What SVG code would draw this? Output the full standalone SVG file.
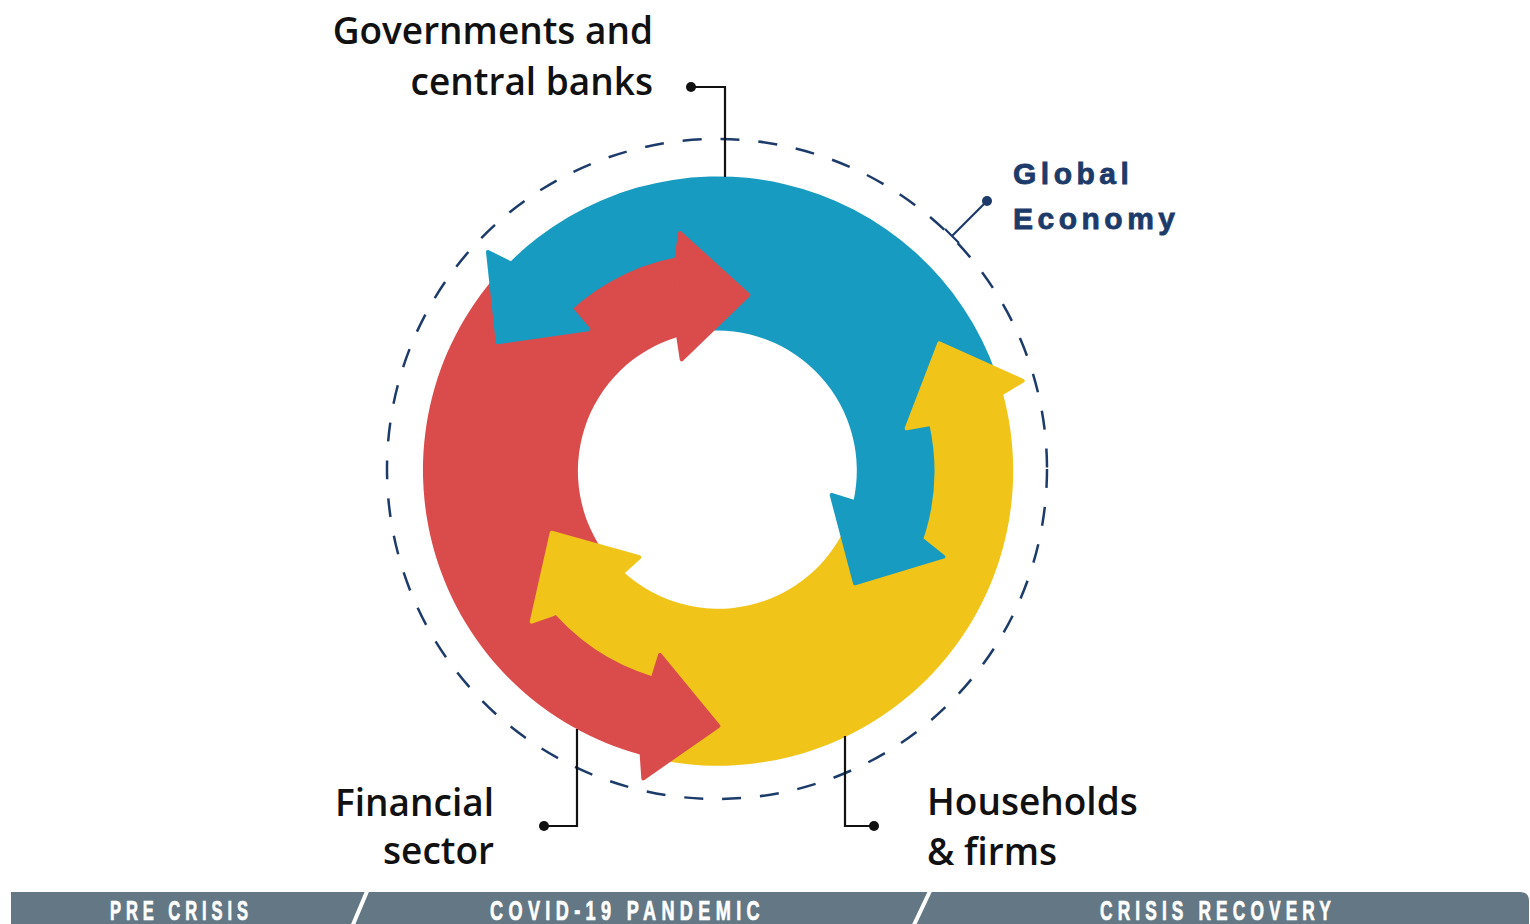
<svg xmlns="http://www.w3.org/2000/svg" width="1530" height="924" viewBox="0 0 1530 924">
<defs>
<style>
.blue{fill:#189bc0}
.red{fill:#da4b4c}
.yellow{fill:#f0c419}
.head{stroke-width:4;stroke-linejoin:round}
.blue.head{stroke:#189bc0}
.red.head{stroke:#da4b4c}
.yellow.head{stroke:#f0c419}
.lbl{font-family:"Open Sans","Noto Sans","Liberation Sans",sans-serif;font-weight:600;font-size:37px;fill:#111}
.ge{font-family:"Liberation Sans",Arial,sans-serif;font-weight:bold;font-size:30px;fill:#1c3b6a;stroke:#1c3b6a;stroke-width:0.8;letter-spacing:4.5px}
.bar-t{font-family:"Liberation Sans",Arial,sans-serif;font-weight:bold;font-size:27px;fill:#ffffff;stroke:#ffffff;stroke-width:0.7;letter-spacing:8px}
.lead{fill:none;stroke:#111;stroke-width:2.2}
.lead-n{fill:none;stroke:#1c3b6a;stroke-width:2.2}
.dot{fill:#111}
</style>
<path id="hBo" d="M509.3,262.7 L572,310 L588.3,329.3 L497.7,342.3 L488,252 Z"/>
<path id="hBi" d="M923.3,540.7 L943.3,556.7 L855,583.3 L831.7,495 L853.3,501.7 Z"/>
<path id="hYo" d="M929.3,424.3 L906.7,428.3 L939.3,343.3 L1022.7,380.7 L1002.7,392.7 Z"/>
<path id="hYi" d="M553.3,614 L531.7,621.7 L551.7,532.7 L639.3,557.3 L623.3,571.7 Z"/>
<path id="hRo" d="M653.3,676.7 L660,655 L718.3,726 L643.3,778.3 L641.7,755 Z"/>
<path id="hRi" d="M676.7,257.3 L680,233 L748.3,295 L681.7,359.3 L678.3,336.7 Z"/>
</defs>

<circle id="global-economy-ring" cx="717" cy="469" r="330" fill="none" stroke="#1c3b6a" stroke-width="2.5" stroke-dasharray="19 19"/>

<g id="arrow-governments">
<path class="blue" d="M509.3,262.7 A295,295 0 0 1 996.4,374.5 L924.6,399.2 A219,219 0 0 1 924.8,541.1 L923.3,540.7 L853.3,501.7 A140,140 0 0 0 700.4,331.5 L691.3,257.1 A215,215 0 0 0 573.1,311.2 L572,310 Z M509.3,262.7 L572,310 L588.3,329.3 L497.7,342.3 L488,252 Z M923.3,540.7 L943.3,556.7 L855,583.3 L831.7,495 L853.3,501.7 Z"/>
</g>
<g id="arrow-households">
<path class="yellow" d="M1002.7,392.7 A295,295 0 0 1 656.2,759.1 L672.0,684.7 A219,219 0 0 1 552.5,614.5 L553.3,614 L623.3,571.7 A140,140 0 0 0 847.3,522.9 L918.7,551.8 A217,217 0 0 0 929.3,424.3 Z M929.3,424.3 L906.7,428.3 L939.3,343.3 L1022.7,380.7 L1002.7,392.7 Z M553.3,614 L531.7,621.7 L551.7,532.7 L639.3,557.3 L623.3,571.7 Z"/>
</g>
<g id="arrow-financial">
<path class="red" d="M641.7,755 A295,295 0 0 1 498.3,273.1 L556.2,325.3 A217,217 0 0 1 676.7,257.3 L678.3,336.7 A140,140 0 0 0 607.2,556.7 L546.5,604.1 A217,217 0 0 0 653.3,676.7 Z M653.3,676.7 L660,655 L718.3,726 L643.3,778.3 L641.7,755 Z M676.7,257.3 L680,233 L748.3,295 L681.7,359.3 L678.3,336.7 Z"/>
</g>
<g id="arrow-heads">
<use href="#hBo" class="blue head"/>
<use href="#hBi" class="blue head"/>
<use href="#hYo" class="yellow head"/>
<use href="#hYi" class="yellow head"/>
<use href="#hRo" class="red head"/>
<use href="#hRi" class="red head"/>
</g>

<g id="connectors">
<path class="lead" d="M691,87 H725 V177"/>
<circle class="dot" cx="691" cy="87" r="5"/>
<path class="lead" d="M544,826 H577 V729"/>
<circle class="dot" cx="544" cy="826" r="5"/>
<path class="lead" d="M874,826 H845 V736"/>
<circle class="dot" cx="874" cy="826" r="5"/>
<path class="lead-n" d="M987,201 L952,236 M945,229 L959,243"/>
<circle cx="987" cy="201" r="5" fill="#1c3b6a"/>
</g>

<g id="label-governments">
<text class="lbl" x="653" y="44" text-anchor="end">Governments and</text>
<text class="lbl" x="653" y="95" text-anchor="end">central banks</text>
</g>
<g id="label-global">
<text class="ge" x="1013" y="184">Global</text>
<text class="ge" x="1013" y="229">Economy</text>
</g>
<g id="label-financial">
<text class="lbl" x="494" y="816" text-anchor="end">Financial</text>
<text class="lbl" x="494" y="864" text-anchor="end">sector</text>
</g>
<g id="label-households">
<text class="lbl" x="927" y="815">Households</text>
<text class="lbl" x="927" y="865">&amp; firms</text>
</g>

<g id="timeline">
<path d="M11,892 H1520 Q1529,892 1529,901 V924 H11 Z" fill="#637884"/>
<path d="M368,889 L352,927 M931,889 L913,927" stroke="#ffffff" stroke-width="4" fill="none"/>
<text class="bar-t" x="110" y="920" textLength="143" lengthAdjust="spacingAndGlyphs">PRE CRISIS</text>
<text class="bar-t" x="490" y="920" textLength="275" lengthAdjust="spacingAndGlyphs">COVID-19 PANDEMIC</text>
<text class="bar-t" x="1100" y="920" textLength="236" lengthAdjust="spacingAndGlyphs">CRISIS RECOVERY</text>
</g>
</svg>
